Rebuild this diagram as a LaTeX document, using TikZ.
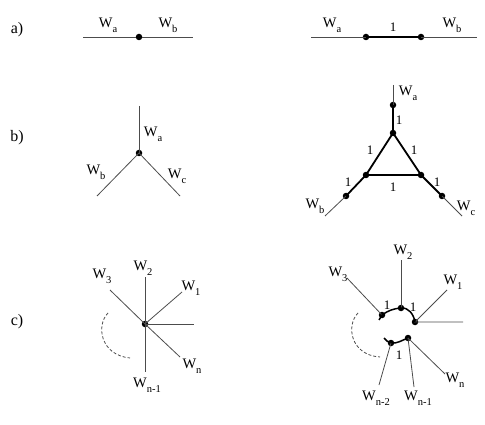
\documentclass[tikz,border=0pt]{standalone}
\usepackage{fontspec}
\setmainfont{Liberation Serif}
\newcommand\Wsub[1]{W\raisebox{-5pt}{\fontsize{10.5}{11}\selectfont #1}}
\begin{document}
\begin{tikzpicture}[x=1pt,y=-1pt,
  thinedge/.style={draw=black!70,line width=0.8pt},
  thickedge/.style={draw=black,line width=1.8pt},
  dot/.style={circle,fill=black,inner sep=0pt,minimum size=6.5pt},
  lbl/.style={inner sep=0pt,font=\fontsize{14.5}{16}\selectfont},
  one/.style={inner sep=0pt,font=\fontsize{13}{14}\selectfont},
  part/.style={inner sep=0pt,font=\fontsize{16}{18}\selectfont}]
\useasboundingbox (0,0) rectangle (485,425);
% part labels
\node[part] (pa) at (17,30) {a)};
\node[part] (pb) at (17,138) {b)};
\node[part] (pc) at (17,322) {c)};
% ---- a) left
\coordinate (A1) at (83,37);
\coordinate (A2) at (193,37);
\node[dot] (a0) at (139,37) {};
\draw[thinedge] (A1) -- (a0) -- (A2);
\node[lbl] (la1) at (108,25) {\Wsub{a}};
\node[lbl] (la2) at (168,25) {\Wsub{b}};
% ---- a) right
\coordinate (B1) at (311,37);
\coordinate (B2) at (477,37);
\node[dot] (b1) at (366,37) {};
\node[dot] (b2) at (421,37) {};
\draw[thinedge] (B1) -- (b1.center);
\draw[thinedge] (b2.center) -- (B2);
\draw[thickedge] (b1.center) -- (b2.center);
\node[lbl] (lb1) at (332,25) {\Wsub{a}};
\node[lbl] (lb2) at (452,25) {\Wsub{b}};
\node[one] (lb3) at (393,27) {1};
% ---- b) left
\node[dot] (c0) at (139,153) {};
\coordinate (Ca) at (139,106);
\coordinate (Cb) at (97,196);
\coordinate (Cc) at (180,196);
\draw[thinedge] (Ca) -- (c0.center);
\draw[thinedge] (Cb) -- (c0.center) -- (Cc);
\node[lbl] (lc1) at (153,134) {\Wsub{a}};
\node[lbl] (lc2) at (96,172) {\Wsub{b}};
\node[lbl] (lc3) at (177,176) {\Wsub{c}};
% ---- b) right
\coordinate (Da) at (393,85);
\coordinate (Db) at (325,216);
\coordinate (Dc) at (462,216);
\node[dot] (da) at (393,105) {};
\node[dot] (dt) at (393,133) {};
\node[dot] (dl) at (366,175) {};
\node[dot] (dr) at (421,175) {};
\node[dot] (dbl) at (346,196) {};
\node[dot] (dbr) at (442,196) {};
\draw[thinedge] (Da) -- (da.center);
\draw[thinedge] (dbl.center) -- (Db);
\draw[thinedge] (dbr.center) -- (Dc);
\draw[thickedge] (da.center) -- (dt.center);
\draw[thickedge] (dt.center) -- (dl.center) -- (dr.center) -- cycle;
\draw[thickedge] (dl.center) -- (dbl.center);
\draw[thickedge] (dr.center) -- (dbr.center);
\node[lbl] (ld1) at (408,93) {\Wsub{a}};
\node[lbl] (ld2) at (315,206) {\Wsub{b}};
\node[lbl] (ld3) at (466,208) {\Wsub{c}};
\node[one] (o1) at (399,120) {1};
\node[one] (o2) at (370,150) {1};
\node[one] (o3) at (414,150) {1};
\node[one] (o4) at (393,187) {1};
\node[one] (o5) at (348,182) {1};
\node[one] (o6) at (437,182) {1};
% ---- c) left
\node[dot] (e0) at (145,324) {};
\coordinate (E2) at (145,277);
\coordinate (E1) at (182,292);
\coordinate (Eh) at (194,324);
\coordinate (En) at (180,357);
\coordinate (Ed) at (145,372);
\coordinate (E3) at (110,290);
\foreach \p in {E2,E1,Eh,En,Ed,E3} \draw[thinedge] (e0.center) -- (\p);
\coordinate (Es) at (108,313);
\coordinate (Ee) at (130,358);
\draw[thinedge,dashed,dash pattern=on 3pt off 2pt] (Es) .. controls (96,325) and (100,355) .. (Ee);
\node[lbl] (le1) at (102,276) {\Wsub{3}};
\node[lbl] (le2) at (143,268) {\Wsub{2}};
\node[lbl] (le3) at (191,288) {\Wsub{1}};
\node[lbl] (le4) at (192,366) {\Wsub{n}};
\node[lbl] (le5) at (147,385) {\Wsub{n-1}};
% ---- c) right
\node[dot] (f3) at (382,315) {};
\node[dot] (f2) at (401,308) {};
\node[dot] (f1) at (415,322) {};
\coordinate (F3) at (347,278);
\coordinate (F2) at (401,260);
\coordinate (F1) at (447,290);
\coordinate (Fh) at (463,322);
\coordinate (Fs) at (379,320);
\draw[thinedge] (F3) -- (f3.center);
\draw[thinedge] (F2) -- (f2.center);
\draw[thinedge] (F1) -- (f1.center) -- (Fh);
\draw[thickedge,line width=1.5pt] (Fs) -- (f3.center) to[out=35,in=185] (f2.center) to[out=5,in=100] (f1.center);
\node[dot] (g1) at (391,343) {};
\node[dot] (g2) at (408,338) {};
\coordinate (g0) at (384,338);
\coordinate (Gn2) at (379,385);
\coordinate (Gn1) at (414,387);
\coordinate (Gn) at (445,374);
\draw[thickedge,line width=1.5pt] (g0) to[out=-40,in=175] (g1.center) to[out=-5,in=200] (g2.center);
\draw[thinedge] (g1.center) -- (Gn2);
\draw[thinedge] (g2.center) -- (Gn1);
\draw[thinedge] (g2.center) -- (Gn);
\coordinate (Hs) at (358,313);
\coordinate (He) at (380,357);
\draw[thinedge,dashed,dash pattern=on 3pt off 2pt] (Hs) .. controls (346,325) and (350,355) .. (He);
\node[lbl] (lf1) at (338,274) {\Wsub{3}};
\node[lbl] (lf2) at (403,252) {\Wsub{2}};
\node[lbl] (lf3) at (453,282) {\Wsub{1}};
\node[lbl] (lf4) at (455,380) {\Wsub{n}};
\node[lbl] (lf5) at (376,398) {\Wsub{n-2}};
\node[lbl] (lf6) at (418,398) {\Wsub{n-1}};
\node[one] (p1) at (387,305) {1};
\node[one] (p2) at (413,307) {1};
\node[one] (p3) at (399,355) {1};
\end{tikzpicture}
\end{document}
